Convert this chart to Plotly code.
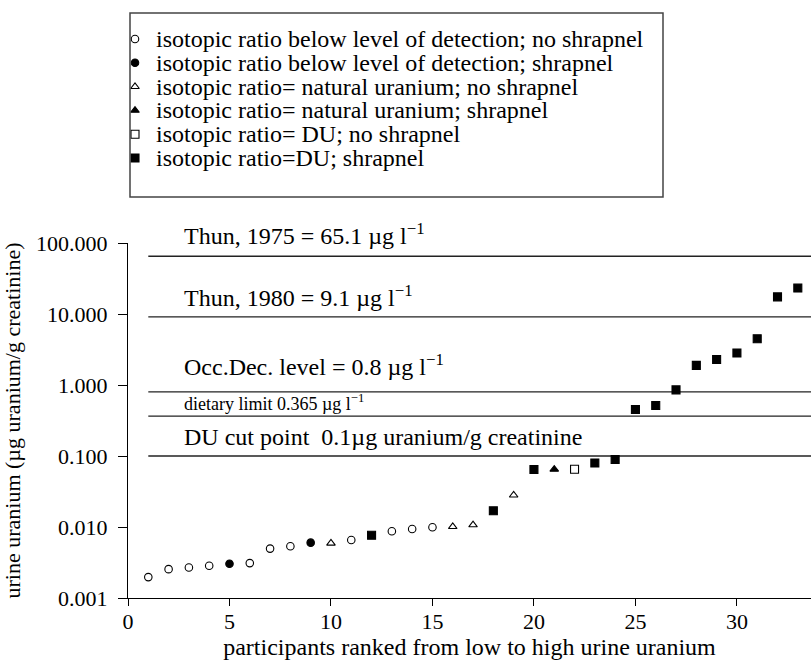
import math
import plotly.graph_objects as go

# ---------------- data ----------------
participants = list(range(1, 34))
urine_uranium = [0.00197, 0.00255, 0.00269, 0.00284, 0.00303, 0.0031, 0.00496, 0.00536,
                 0.00602, 0.0059, 0.00657, 0.00765, 0.0087, 0.00937, 0.0099, 0.0101,
                 0.0107, 0.0169, 0.0281, 0.0645, 0.065, 0.065, 0.0797, 0.0891,
                 0.452, 0.514, 0.853, 1.89, 2.29, 2.82, 4.48, 17.4, 23.2]
# category index per participant (see category_labels)
category = [0, 0, 0, 0, 1, 0, 0, 0, 1, 2, 0, 5, 0, 0, 0, 2, 2, 5, 2, 5, 3, 4,
            5, 5, 5, 5, 5, 5, 5, 5, 5, 5, 5]
category_labels = [
    "isotopic ratio below level of detection; no shrapnel",
    "isotopic ratio below level of detection; shrapnel",
    "isotopic ratio= natural uranium; no shrapnel",
    "isotopic ratio= natural uranium; shrapnel",
    "isotopic ratio= DU; no shrapnel",
    "isotopic ratio=DU; shrapnel",
]
ref_values = [65.1, 9.1, 0.8, 0.365, 0.1]
ref_labels = [
    "Thun, 1975 = 65.1 µg l<sup>−1</sup>",
    "Thun, 1980 = 9.1 µg l<sup>−1</sup>",
    "Occ.Dec. level = 0.8 µg l<sup>−1</sup>",
    "dietary limit 0.365 µg l<sup>−1</sup>",
    "DU cut point\u00a0 0.1µg uranium/g creatinine",
]
x_ticks = [0, 5, 10, 15, 20, 25, 30]
y_ticks = [0.001, 0.01, 0.1, 1, 10, 100]
y_ticktext = ["0.001", "0.010", "0.100", "1.000", "10.000", "100.000"]

# ---------------- style ----------------
FONT = "Liberation Serif"
symbols = ["circle-open", "circle", "triangle-up-open", "triangle-up", "square-open", "square"]
sizes = [7.5, 7.5, 7.5, 7.5, 8, 8]
ref_label_sizes = [24, 24, 24, 18, 24]
ref_label_shift = [22, 21, 27, 14, 19]
ref_line_start = 1
X_MAX = 33.65

fig = go.Figure()

# reference lines
for v in ref_values:
    fig.add_trace(go.Scatter(x=[ref_line_start, X_MAX], y=[v, v], mode="lines",
                             line=dict(color="#222", width=1.3), showlegend=False,
                             hoverinfo="skip", xaxis="x", yaxis="y"))

# data points by category
for k, lab in enumerate(category_labels):
    xs = [p for p, c in zip(participants, category) if c == k]
    ys = [u for u, c in zip(urine_uranium, category) if c == k]
    fig.add_trace(go.Scatter(x=xs, y=ys, mode="markers", name=lab, showlegend=False,
                             marker=dict(symbol=symbols[k], size=sizes[k], color="black",
                                         line=dict(color="black", width=1.1)),
                             cliponaxis=False, xaxis="x", yaxis="y"))

# annotations for reference lines
annotations = []
for v, lab, fs, sh in zip(ref_values, ref_labels, ref_label_sizes, ref_label_shift):
    annotations.append(dict(x=2.65, y=math.log10(v), xref="x", yref="y", text=lab,
                            showarrow=False, xanchor="left", yanchor="middle", yshift=sh,
                            font=dict(family=FONT, size=fs, color="black")))

# manual legend (pixel-like overlay axes)
leg_x_marker = 135
leg_x_text = 154
leg_rows = [39, 62.8, 86.6, 110.4, 134.2, 158]
for k, lab in enumerate(category_labels):
    fig.add_trace(go.Scatter(x=[leg_x_marker], y=[leg_rows[k]], mode="markers",
                             marker=dict(symbol=symbols[k], size=sizes[k], color="black",
                                         line=dict(color="black", width=1.1)),
                             cliponaxis=False, showlegend=False, hoverinfo="skip",
                             xaxis="x2", yaxis="y2"))
    annotations.append(dict(x=leg_x_text, y=leg_rows[k], xref="x2", yref="y2", text=lab,
                            showarrow=False, xanchor="left", yanchor="middle",
                            font=dict(family=FONT, size=24, color="black")))

shapes = [dict(type="rect", xref="x2", yref="y2", x0=130, y0=13, x1=663, y1=197,
               line=dict(color="#444", width=1.5), fillcolor="rgba(0,0,0,0)")]

H = 664
B = 66
plot_h = H - B
y_top_px = 243
y_dom_top = (plot_h - y_top_px) / plot_h

axis_common = dict(showline=True, linecolor="black", linewidth=1.3, ticks="outside",
                   tickwidth=1.3, tickcolor="black", showgrid=False,
                   zeroline=False, tickfont=dict(family=FONT, size=22, color="black"))

fig.update_layout(
    width=811, height=H,
    margin=dict(l=128, r=0, t=0, b=B, autoexpand=False),
    paper_bgcolor="white", plot_bgcolor="rgba(0,0,0,0)",
    showlegend=False,
    font=dict(family=FONT, color="black"),
    xaxis=dict(domain=[0, 1], range=[0, X_MAX], anchor="y", tickvals=x_ticks,
               ticklen=7, ticklabelstandoff=-4,
               title=dict(text="participants ranked from low to high urine uranium",
                          font=dict(family=FONT, size=24, color="black"), standoff=2),
               **axis_common),
    yaxis=dict(domain=[0, y_dom_top], type="log", range=[-3, 2], anchor="x",
               tickvals=y_ticks, ticktext=y_ticktext, ticklen=9, ticklabelstandoff=6,
               title=dict(text="urine uranium (µg uranium/g creatinine)",
                          font=dict(family=FONT, size=22, color="black")),
               **axis_common),
    xaxis2=dict(domain=[0, 1], range=[128, 811], anchor="y2", visible=False),
    yaxis2=dict(domain=[0, 1], range=[plot_h, 0], anchor="x2", visible=False),
    annotations=annotations,
    shapes=shapes,
)

fig.write_html("out.html")
